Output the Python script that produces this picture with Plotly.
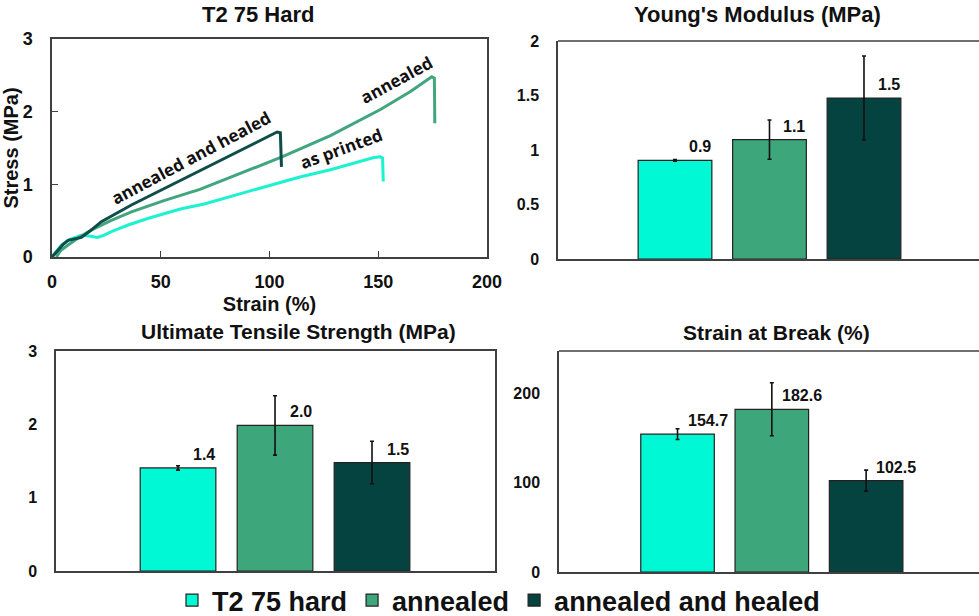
import plotly.graph_objects as go

# ---------------- data ----------------
categories = ["T2 75 hard", "annealed", "annealed and healed"]
bar_colors = ["#00F8D4", "#3DA67B", "#04433F"]

# stress-strain curves
printed_strain = [0, 2, 4.3, 8, 13.5, 17, 21, 24, 27.3, 35, 44, 59, 70, 90, 114, 128, 140, 148, 151, 152, 152.3]
printed_stress = [0, 0.08, 0.165, 0.24, 0.30, 0.29, 0.27, 0.30, 0.35, 0.44, 0.53, 0.66, 0.73, 0.9, 1.1, 1.2, 1.3, 1.37, 1.38, 1.36, 1.04]
annealed_strain = [2, 4, 7.4, 12, 18, 27, 36.5, 51.8, 68, 85, 106, 128, 151, 165, 174.6, 175.8, 176]
annealed_stress = [0, 0.09, 0.165, 0.26, 0.37, 0.50, 0.62, 0.78, 0.93, 1.13, 1.38, 1.67, 2.03, 2.28, 2.48, 2.46, 1.84]
healed_strain = [0, 2, 5, 7.4, 10, 13.5, 18, 22.7, 36.5, 51.8, 70, 85, 100, 103.5, 105, 105.5]
healed_stress = [0, 0.07, 0.17, 0.23, 0.245, 0.27, 0.37, 0.486, 0.716, 0.945, 1.22, 1.44, 1.66, 1.72, 1.71, 1.24]
curve_names = ["as printed", "annealed", "annealed and healed"]
curve_colors = ["#1CF2D0", "#41A57D", "#0E4D4A"]

# bar summaries
young_mean = [0.905, 1.095, 1.477]
young_err = [0.008, 0.18, 0.385]
young_text = ["0.9", "1.1", "1.5"]
uts_mean = [1.406, 1.985, 1.479]
uts_err = [0.03, 0.405, 0.29]
uts_text = ["1.4", "2.0", "1.5"]
strain_mean = [154.7, 182.6, 102.5]
strain_err = [6, 29.7, 11.8]
strain_text = ["154.7", "182.6", "102.5"]

FONT = "Liberation Sans, Arial, sans-serif"
W, H = 979, 616


def px(x):
    return x / W


def py(y):
    return 1 - y / H


fig = go.Figure()

# ---- stress-strain curves (xaxis / yaxis) ----
for xs, ys, nm, col in zip([printed_strain, annealed_strain, healed_strain],
                           [printed_stress, annealed_stress, healed_stress],
                           curve_names, curve_colors):
    fig.add_trace(go.Scatter(x=xs, y=ys, mode="lines", name=nm, showlegend=False,
                             line=dict(color=col, width=3), xaxis="x", yaxis="y"))

# ---- bar subplots ----
bar_sets = [
    ("x2", "y2", young_mean, young_err),
    ("x3", "y3", uts_mean, uts_err),
    ("x4", "y4", strain_mean, strain_err),
]
for k, (xa, ya, means, errs) in enumerate(bar_sets):
    for i, cat in enumerate(categories):
        fig.add_trace(go.Bar(
            x=[i], y=[means[i]], name=cat, legendgroup=cat,
            showlegend=(k == 0),
            marker=dict(color=bar_colors[i], line=dict(color="#222222", width=1.2)),
            width=0.78,
            error_y=dict(type="data", array=[errs[i]], color="#111111", thickness=1.6, width=2),
            xaxis=xa, yaxis=ya,
        ))

tickfont = dict(family=FONT, size=16, color="#111111", weight="bold")
axline = dict(showline=True, linecolor="#404040", linewidth=1.5, automargin=False)

fig.update_layout(
    template="none",
    width=W, height=H,
    margin=dict(l=0, r=0, t=0, b=0, pad=0, autoexpand=False),
    paper_bgcolor="white", plot_bgcolor="white",
    barmode="overlay",
    font=dict(family=FONT, color="#111111"),
    showlegend=True,
    legend=dict(orientation="h", x=px(172), xanchor="left", y=py(576), yanchor="top",
                font=dict(family=FONT, size=27, color="#111111", weight="bold"),
                bgcolor="rgba(0,0,0,0)", borderwidth=0, itemclick=False, traceorder="normal"),
    # stress-strain
    xaxis=dict(domain=[px(52), px(487)], anchor="y", range=[0, 200], dtick=50,
               ticks="inside", ticklen=6, tickcolor="#404040", mirror=True,
               showgrid=False, zeroline=False, tickfont=dict(family=FONT, size=18, color="#111111", weight="bold"),
               ticklabelstandoff=8,
               title=dict(text="Strain (%)", font=dict(family=FONT, size=20, color="#111111", weight="bold"),
                          standoff=6),
               **axline),
    yaxis=dict(domain=[py(257), py(39)], anchor="x", range=[0, 3], dtick=1,
               ticks="inside", ticklen=6, tickcolor="#404040", mirror=True,
               showgrid=False, zeroline=False, tickfont=dict(family=FONT, size=18, color="#111111", weight="bold"),
               ticklabelstandoff=14,
               title=dict(text="Stress (MPa)", font=dict(family=FONT, size=20, color="#111111", weight="bold"),
                          standoff=6),
               **axline),
    # young's modulus
    xaxis2=dict(domain=[px(558), 1.0], anchor="y2", range=[-1.238, 3.217],
                showticklabels=False, ticks="", showgrid=False, zeroline=False, **axline),
    yaxis2=dict(domain=[py(259), py(41)], anchor="x2", range=[0, 2], tickvals=[0, 0.5, 1, 1.5, 2],
                ticks="", showgrid=False, zeroline=False, tickfont=tickfont, ticklabelstandoff=14, **axline),
    # UTS
    xaxis3=dict(domain=[px(56), px(495)], anchor="y3", range=[-1.258, 3.268], mirror=True,
                showticklabels=False, ticks="", showgrid=False, zeroline=False, **axline),
    yaxis3=dict(domain=[py(571), py(351)], anchor="x3", range=[0, 3], tickvals=[0, 1, 2, 3], mirror=True,
                ticks="", showgrid=False, zeroline=False, tickfont=tickfont, ticklabelstandoff=14, **axline),
    # strain at break
    xaxis4=dict(domain=[px(559), 1.0], anchor="y4", range=[-1.257, 3.197],
                showticklabels=False, ticks="", showgrid=False, zeroline=False, **axline),
    yaxis4=dict(domain=[py(572), py(351)], anchor="x4", range=[0, 248], tickvals=[0, 100, 200],
                ticks="", showgrid=False, zeroline=False, tickfont=tickfont, ticklabelstandoff=14, **axline),
)

# top border lines for the right-hand panels (right edge is cut off)
for xa, ya in [("x2", "y2"), ("x4", "y4")]:
    fig.add_shape(type="line", xref=f"{xa} domain", yref=f"{ya} domain", x0=0, x1=1.01, y0=1, y1=1,
                  line=dict(color="#404040", width=1.5))

annotations = []
# panel titles
for txt, cx, cy, sz in [("T2 75 Hard", 258, 15, 22), ("Young's Modulus (MPa)", 757, 15, 22),
                        ("Ultimate Tensile Strength (MPa)", 298, 331, 21), ("Strain at Break (%)", 776, 332, 21)]:
    annotations.append(dict(text=txt, x=px(cx), y=py(cy), xref="paper", yref="paper",
                            xanchor="center", yanchor="middle", showarrow=False,
                            font=dict(family=FONT, size=sz, color="#111111", weight="bold")))

# curve labels
LBL = "Open Sans, Noto Sans, sans-serif"
for txt, x, y, ang in [("annealed and healed", 63.9, 1.376, -28), ("annealed", 158.6, 2.44, -28.5),
                       ("as printed", 132.9, 1.50, -20)]:
    annotations.append(dict(text=txt, x=x, y=y, xref="x", yref="y", textangle=ang,
                            xanchor="center", yanchor="middle", showarrow=False,
                            font=dict(family=LBL, size=17, color="#111111", weight="bold")))

# value labels
for xa, ya, means, texts, off in [("x2", "y2", young_mean, young_text, 0.26),
                                  ("x3", "y3", uts_mean, uts_text, 0.27),
                                  ("x4", "y4", strain_mean, strain_text, 0.32)]:
    for i in range(3):
        annotations.append(dict(text=texts[i], x=i + off, y=means[i], xref=xa, yref=ya,
                                xanchor="center", yanchor="bottom", yshift=3, showarrow=False,
                                font=dict(family=FONT, size=16, color="#111111", weight="bold")))

fig.update_layout(annotations=annotations)

fig.write_html("out.html")
